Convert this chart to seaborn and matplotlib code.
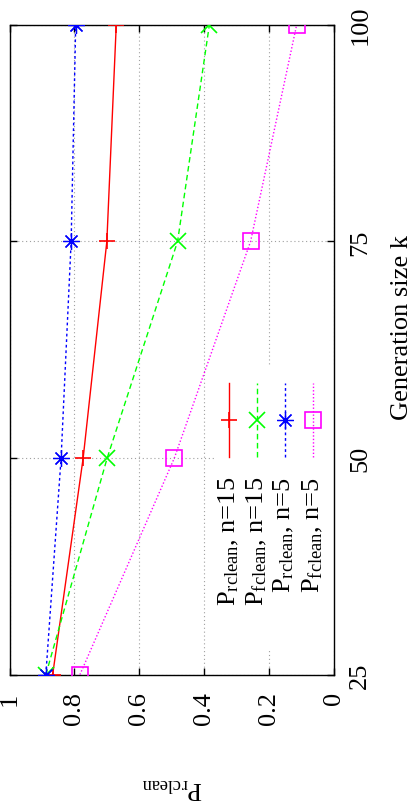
import numpy as np
import matplotlib
matplotlib.use('Agg')
import matplotlib.pyplot as plt
from matplotlib.patches import Rectangle
import seaborn as sns

k = [25, 50, 75, 100]
p_rclean_15 = [0.867, 0.773, 0.700, 0.671]
p_fclean_15 = [0.888, 0.699, 0.482, 0.384]
p_rclean_5 = [0.888, 0.841, 0.810, 0.796]
p_fclean_5 = [0.783, 0.492, 0.257, 0.115]
labels = [r'P$_{\rm rclean}$, n=15', r'P$_{\rm fclean}$, n=15',
          r'P$_{\rm rclean}$, n=5', r'P$_{\rm fclean}$, n=5']
p_ticks = [0, 0.2, 0.4, 0.6, 0.8, 1]
p_ticklabels = ['0', '0.2', '0.4', '0.6', '0.8', '1']
k_ticks = [25, 50, 75, 100]

plt.rcParams['font.family'] = ['Liberation Serif', 'DejaVu Serif']
plt.rcParams['mathtext.fontset'] = 'custom'
plt.rcParams['mathtext.rm'] = 'Liberation Serif'
plt.rcParams['mathtext.it'] = 'Liberation Serif:italic'

FS = 19
# colour, linestyle, marker, marker size, edge width, filled
styles = [
    ('#ff0000', '-', '+', 11, 1.2, True),
    ('#00ff00', (0, (4, 2.5)), 'x', 11, 1.2, True),
    ('#0000ff', (0, (2, 2)), (8, 2, 0), 12, 0.9, True),
    ('#ff00ff', (0, (1, 1.5)), 's', 11, 1.2, False),
]
series = [p_rclean_15, p_fclean_15, p_rclean_5, p_fclean_5]

fig = plt.figure(figsize=(4.15, 8.04), dpi=100)
ax = fig.add_axes([0.0229, 0.1596, 0.7819, 0.8084])

for vals, (c, ls, m, ms, mew, filled) in zip(series, styles):
    sns.lineplot(x=vals, y=k, sort=False, estimator=None, ax=ax,
                 color=c, linestyle=ls, lw=1.0, marker=m, markersize=ms,
                 markeredgecolor=c, markeredgewidth=mew,
                 markerfacecolor=c if filled else 'none',
                 zorder=3, legend=False)

ax.set_xlim(1, 0)
ax.set_ylim(25, 100)
ax.set_xticks(p_ticks)
ax.set_xticklabels(p_ticklabels)
ax.set_yticks(k_ticks)
ax.set_axisbelow(True)
ax.grid(True, linestyle=(0, (1, 2.5)), color='#a0a0a0', lw=0.8)
for s in ax.spines.values():
    s.set_linewidth(1.0)

ax.tick_params(direction='in', length=5, width=1, top=True, bottom=True,
               left=True, right=True, labelsize=FS)
ax.tick_params(axis='x', labelrotation=90, pad=12)
ax.tick_params(axis='y', labelleft=False, labelright=True, labelrotation=90, pad=11)
for lab in ax.get_yticklabels():
    lab.set_va('center')

ax.set_xlabel(r'P$_{\rm rclean}$', fontsize=FS, rotation=180, va='top', ha='center')
ax.xaxis.set_label_coords(0.5, -0.155)
ax.yaxis.set_label_position('right')
ax.set_ylabel('Generation size k', fontsize=FS, rotation=90, va='center', ha='center')
ax.yaxis.set_label_coords(1.21, 0.535)

# key area (gnuplot clears the grid behind it)
ax.add_patch(Rectangle((0.633, 0.04), 0.367, 0.435, transform=ax.transAxes,
                       fc='white', ec='none', zorder=1.5))
line_x = [0.676, 0.763, 0.849, 0.935]
text_x = [0.695, 0.781, 0.867, 0.954]
for lx, tx, lab, (c, ls, m, ms, mew, filled) in zip(line_x, text_x, labels, styles):
    ax.plot([lx, lx], [0.335, 0.449], transform=ax.transAxes, color=c,
            linestyle=ls, lw=1.0, zorder=3)
    ax.plot([lx], [0.392], transform=ax.transAxes, color=c, marker=m,
            markersize=ms, markeredgecolor=c, markeredgewidth=mew,
            markerfacecolor=c if filled else 'none', zorder=3)
    ax.text(tx, 0.306, lab, transform=ax.transAxes, fontsize=FS, rotation=90,
            rotation_mode='anchor', ha='right', va='baseline')

fig.savefig('out.png', dpi=100)
